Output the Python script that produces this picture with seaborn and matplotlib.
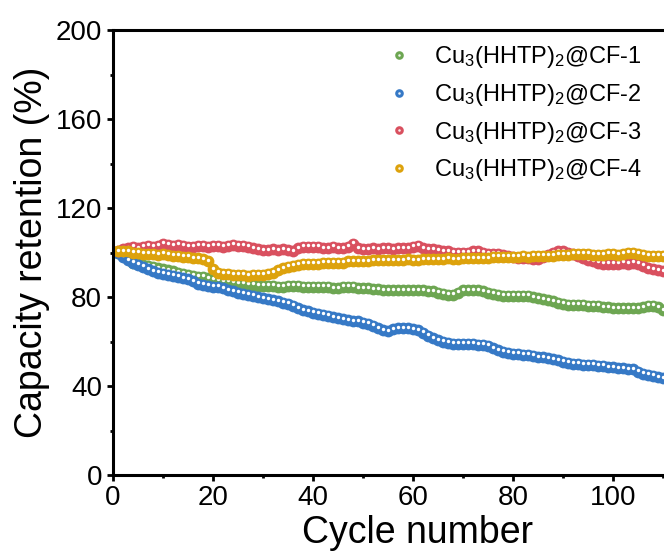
import matplotlib
matplotlib.use("Agg")
import matplotlib.pyplot as plt
import matplotlib.transforms as mtransforms
from matplotlib.ticker import MultipleLocator, FixedLocator
from matplotlib.legend_handler import HandlerTuple
from matplotlib.lines import Line2D
import numpy as np
import pandas as pd
import seaborn as sns

# ---------------- data ----------------
cycles = list(range(1, 112))

cf1 = [100, 98.5, 97, 95.5, 95, 94.5, 94, 93.5, 93, 92.5,
       92, 91.5, 91, 90.5, 90, 89.5, 89, 89, 88.5, 88,
       87.5, 87, 87, 86.5, 86, 86, 85.5, 85.5, 85, 85,
       85, 85, 84.5, 84.5, 85, 85, 85, 84.5, 84.5, 84.5,
       84.5, 84.5, 84.5, 84, 84, 84.5, 84.5, 84.5, 84, 84,
       84, 83.5, 83.5, 83, 83, 83, 83, 83, 83, 83,
       83, 83, 82.5, 82.5, 82, 81.5, 81, 81, 82, 83,
       83, 83, 83, 82.5, 82, 81.5, 81, 80.5, 80.5, 80.5,
       80.5, 80.5, 80.5, 80, 79.5, 79, 78.5, 78, 77.5, 77,
       76.5, 76.5, 76.5, 76.5, 76, 76, 76, 75.5, 75.5, 75,
       75, 75, 75, 75, 75, 75.5, 76, 76, 75.5, 74, 73.5]

cf2 = [100, 98, 96.5, 95.5, 94.5, 93.5, 92.5, 91.5, 91, 90.5,
       90, 89.5, 89, 88.5, 88, 87, 86, 85.5, 85, 84.5,
       84.5, 84, 83, 82.5, 82, 81.5, 81, 80.5, 80, 79.5,
       79, 78.5, 78, 77.5, 77, 76, 75, 74, 73.5, 73,
       72.5, 72, 71.5, 71, 70.5, 70, 69.5, 69, 69, 68.5,
       68, 67, 66, 65, 64.5, 65.5, 66, 66, 66, 65.5,
       65, 64, 62.5, 61.5, 60.5, 60, 59.5, 59, 59, 59,
       59, 59, 58.5, 58.5, 58, 57, 56, 55.5, 55, 54.5,
       54.5, 54, 54, 53.5, 53, 53, 52.5, 52, 51.5, 51,
       50.5, 50, 50, 49.5, 49.5, 49.5, 49, 49, 48.5, 48.5,
       48, 48, 47.5, 47.5, 46.5, 45.5, 45, 44.5, 44, 43.5, 43]

cf3 = [100.5, 101.5, 102, 102.5, 102, 102.5, 103, 102.5, 103, 104,
       103.5, 103, 103.5, 103, 102.5, 102.5, 103, 103, 102.5, 103,
       103, 102.5, 103, 103.5, 103, 103, 102.5, 102, 101.5, 101,
       101, 101.5, 101, 101.5, 101, 100.5, 102, 102.5, 102.5, 102.5,
       102.5, 102, 102, 102.5, 102, 102, 102.5, 104, 102, 101.5,
       101.5, 102, 101.5, 102, 102, 101.5, 102, 102, 102, 102.5,
       103, 102, 101.5, 101.5, 101, 100.5, 100.5, 100, 100, 100,
       100, 100.5, 100.5, 100, 99.5, 99.5, 99.5, 99, 98.5, 98,
       97.5, 97.5, 97.5, 97, 97, 98, 99, 100, 100.5, 100.5,
       100, 99.5, 98.5, 97.5, 96.5, 96, 95.5, 95, 95, 95,
       95, 95.5, 95, 95.5, 95, 94, 93, 92.5, 92, 91.5, 91]

cf4 = [100.5, 100.5, 100.5, 100, 100, 99.5, 99.5, 99.5, 99, 99.5,
       99, 98.5, 98.5, 98, 98, 97.5, 97.5, 97, 96, 92.5,
       91, 90.5, 90.5, 90, 90, 90, 89.5, 90, 90, 90,
       90.5, 91, 92, 93, 93.5, 94, 94.5, 95, 95, 95,
       95, 95.5, 95.5, 95.5, 95.5, 95.5, 96, 96, 96, 96,
       96, 96.5, 96.5, 96.5, 96.5, 96.5, 96.5, 96.5, 97, 96.5,
       96.5, 97, 97, 97, 97, 97, 97.5, 97, 97, 97.5,
       97.5, 97.5, 97.5, 97.5, 97.5, 98, 98, 98, 98, 98,
       98, 98.5, 98, 98.5, 98.5, 98.5, 98.5, 98.5, 99, 99,
       99, 99.5, 99.5, 99.5, 99.5, 99, 99, 99, 99.5, 99.5,
       99, 99.5, 100, 100, 99.5, 99, 98.5, 98.5, 98.5, 98.5, 98.5]

labels = ["Cu$_3$(HHTP)$_2$@CF-1", "Cu$_3$(HHTP)$_2$@CF-2",
          "Cu$_3$(HHTP)$_2$@CF-3", "Cu$_3$(HHTP)$_2$@CF-4"]
colors = ["#6DA652", "#3679C6", "#D9505F", "#DDA20C"]
series = [cf1, cf2, cf3, cf4]

x_ticks = [0, 20, 40, 60, 80, 100]
x_minor = [10, 30, 50, 70, 90, 110]
y_ticks = [0, 40, 80, 120, 160, 200]

# ---------------- style ----------------
sns.set_theme(style="ticks")
plt.rcParams["font.family"] = ["Liberation Sans", "DejaVu Sans"]
plt.rcParams["mathtext.fontset"] = "custom"
plt.rcParams["mathtext.rm"] = "Liberation Sans"
plt.rcParams["mathtext.it"] = "Liberation Sans:italic"
plt.rcParams["mathtext.default"] = "regular"
plt.rcParams["text.color"] = "black"
plt.rcParams["axes.labelcolor"] = "black"

W, H = 664, 552
fig = plt.figure(figsize=(W / 100, H / 100), dpi=100)
ax = fig.add_axes([113 / W, 1 - 475 / H, 610 / W, 445 / H])

hl_trans = mtransforms.offset_copy(ax.transData, fig=fig, x=-0.3, y=1.5, units="dots")

handles = []
for vals, col, lab in zip(series, colors, labels):
    df = pd.DataFrame({"cycle": cycles, "retention": vals})
    sns.scatterplot(data=df, x="cycle", y="retention", color=col, s=72,
                    linewidth=0, ax=ax, legend=False)
    sns.scatterplot(data=df, x="cycle", y="retention", color="white", s=6,
                    linewidth=0, ax=ax, legend=False, transform=hl_trans)
    h_col = Line2D([], [], linestyle="", marker="o", markersize=6.2,
                   markerfacecolor=col, markeredgewidth=0)
    h_white = Line2D([], [], linestyle="", marker="o", markersize=1.8,
                     markerfacecolor="white", markeredgewidth=0, alpha=0.9)
    handles.append((h_col, h_white))

ax.set_xlim(0, 122)
ax.set_ylim(0, 200)
ax.set_xticks(x_ticks)
ax.set_yticks(y_ticks)
ax.xaxis.set_minor_locator(FixedLocator(x_minor))
ax.yaxis.set_minor_locator(MultipleLocator(20))

ax.set_xlabel("Cycle number", fontsize=27, labelpad=3)
ax.set_ylabel("Capacity retention (%)", fontsize=27, labelpad=4)

for side in ["top", "bottom", "left", "right"]:
    ax.spines[side].set_linewidth(2.2)
    ax.spines[side].set_color("black")

ax.tick_params(which="major", direction="out", length=4, width=2,
               labelsize=20, color="black", labelcolor="black")
ax.tick_params(axis="x", which="major", pad=3)
ax.tick_params(axis="y", which="major", pad=4)
ax.tick_params(which="minor", direction="out", length=2.5, width=2, color="black")

leg = ax.legend(handles=handles, labels=labels,
                handler_map={tuple: HandlerTuple(ndivide=1)},
                loc="upper left", bbox_to_anchor=(387 / W, 1 - 44 / H),
                bbox_transform=fig.transFigure, frameon=False,
                borderpad=0, borderaxespad=0, handlelength=1.0,
                handletextpad=1.0, labelspacing=0.5, fontsize=17,
                numpoints=1)

fig.savefig("out.png", dpi=100)
